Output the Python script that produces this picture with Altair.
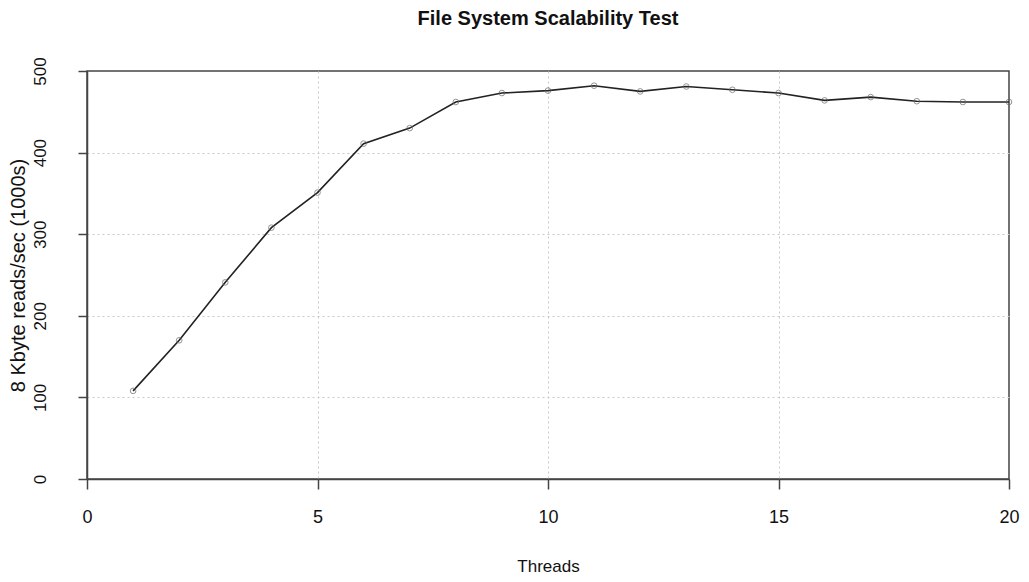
import altair as alt
import pandas as pd

threads = list(range(1, 21))
reads = [108, 170, 241, 308, 351, 411, 430, 462, 473, 476,
         482, 475, 481, 477, 473, 464, 468, 463, 462, 462]

x_ticks = [0, 5, 10, 15, 20]
y_ticks = [0, 100, 200, 300, 400, 500]

df = pd.DataFrame({"Threads": threads, "Reads": reads})

FONT = "Liberation Sans"

x_grid_op = {"condition": {"test": "datum.value <= 0 || datum.value >= 20", "value": 0}, "value": 1}
y_grid_op = {"condition": {"test": "datum.value <= 0 || datum.value >= 500", "value": 0}, "value": 1}

x_enc = alt.X(
    "Threads:Q",
    scale=alt.Scale(domain=[0, 20], nice=False, zero=False),
    axis=alt.Axis(
        values=x_ticks,
        title="Threads",
        titleFont=FONT, titleFontSize=17, titleFontWeight="normal", titleColor="#111",
        titleY=87, titleBaseline="middle",
        labelFont=FONT, labelFontSize=18, labelColor="#111",
        labelPadding=19, labelBaseline="top", labelFlush=False,
        tickSize=10, tickColor="#444", tickWidth=1.5,
        domainColor="#444", domainWidth=1.5,
        grid=True, gridColor="#c8c8c8", gridDash=[2, 3], gridWidth=1,
        gridOpacity=x_grid_op,
    ),
)
y_enc = alt.Y(
    "Reads:Q",
    scale=alt.Scale(domain=[0, 500], nice=False),
    axis=alt.Axis(
        values=y_ticks,
        title="8 Kbyte reads/sec (1000s)",
        titleFont=FONT, titleFontSize=20, titleFontWeight="normal", titleColor="#111",
        titleAngle=-90, titleX=-69, titleY=204, titleAlign="center", titleBaseline="middle",
        labelFont=FONT, labelFontSize=17, labelColor="#111",
        labelAngle=-90, labelAlign="center", labelBaseline="middle",
        labelPadding=38, labelFlush=False,
        tickSize=9, tickColor="#444", tickWidth=1.5,
        domainColor="#444", domainWidth=1.5,
        grid=True, gridColor="#c8c8c8", gridDash=[2, 3], gridWidth=1,
        gridOpacity=y_grid_op,
    ),
)

line = alt.Chart(df).mark_line(color="#222", strokeWidth=1.6).encode(x=x_enc, y=y_enc)
pts = alt.Chart(df).mark_point(filled=False, size=32, color="#666", strokeWidth=1).encode(
    x="Threads:Q", y="Reads:Q"
)

chart = (
    alt.layer(line, pts)
    .properties(
        width=922,
        height=408,
        padding=0,
        title=alt.TitleParams(
            "File System Scalability Test",
            font=FONT, fontSize=20, fontWeight="bold", color="#111",
            anchor="middle", offset=28,
        ),
        background="white",
    )
    .configure_view(stroke="#444", strokeWidth=1.5)
)

chart.save("out.html", embed_options={"renderer": "svg", "actions": False})
